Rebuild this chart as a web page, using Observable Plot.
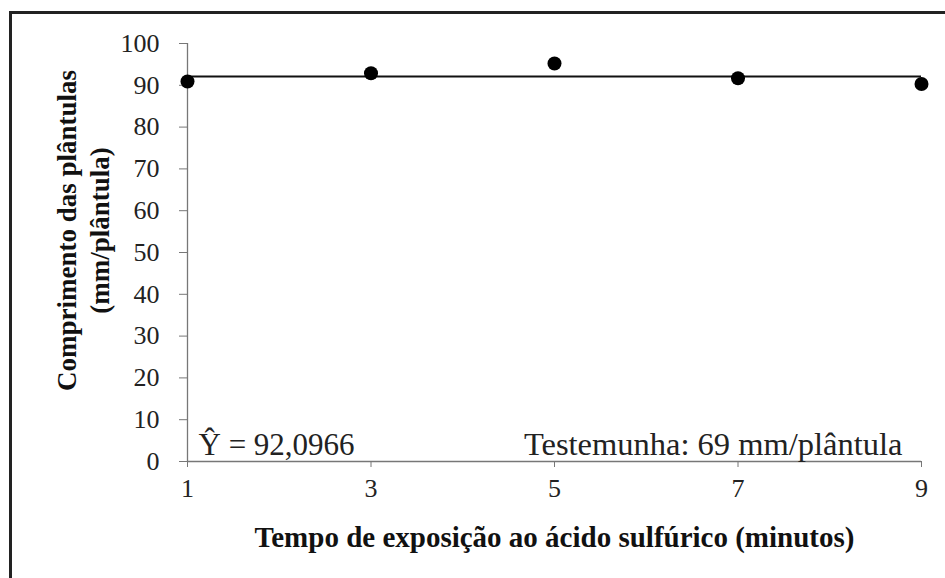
<!DOCTYPE html>
<html><head><meta charset="utf-8">
<script src="https://cdn.jsdelivr.net/npm/d3@7"></script>
<script src="https://cdn.jsdelivr.net/npm/@observablehq/plot@0.6"></script>
<style>
body{margin:0;background:#fff;}
#wrap{position:relative;width:945px;height:578px;overflow:hidden;background:#fff;}
#border{position:absolute;left:9px;top:11px;width:1000px;height:1000px;border-left:3px solid #222;border-top:3px solid #222;pointer-events:none;}
#wrap svg{position:absolute;left:0;top:0;}
</style></head><body><div id="wrap"><div id="border"></div></div>
<script>
const tempo = [1, 3, 5, 7, 9];
const comprimento = [90.9, 92.9, 95.2, 91.7, 90.3];
const yTicks = [0, 10, 20, 30, 40, 50, 60, 70, 80, 90, 100];
const xTicks = [1, 3, 5, 7, 9];
const fitted = 92.0966;
const eqLabel = "Ŷ = 92,0966";
const controlLabel = "Testemunha: 69 mm/plântula";
const xTitle = "Tempo de exposição ao ácido sulfúrico (minutos)";
const yTitleLines = ["Comprimento das plântulas", "(mm/plântula)"];

const data = tempo.map((t, i) => ({t, v: comprimento[i]}));
const serif = "'Liberation Serif', 'Times New Roman', serif";

const chart = Plot.plot({
  width: 945, height: 578,
  marginLeft: 187, marginRight: 24, marginTop: 43, marginBottom: 117,
  x: {domain: [1, 9]},
  y: {domain: [0, 100]},
  style: {fontFamily: serif, background: "transparent", color: "#222"},
  marks: [
    Plot.axisY({ticks: yTicks, tickSize: 8, tickPadding: 20, fontSize: 26, stroke: "#777", fill: "#222", label: null}),
    Plot.axisX({ticks: xTicks, tickSize: 6, tickPadding: 11, fontSize: 26, stroke: "#777", fill: "#222", label: null}),
    Plot.ruleX([1], {y1: 0, y2: 100, stroke: "#777", strokeWidth: 1.3}),
    Plot.ruleY([0], {x1: 1, x2: 9, stroke: "#777", strokeWidth: 1.3}),
    Plot.ruleY([fitted], {x1: 1, x2: 9, stroke: "#111", strokeWidth: 2}),
    Plot.dot(data, {x: "t", y: "v", r: 7, fill: "#000", stroke: null}),
    Plot.text([eqLabel], {frameAnchor: "bottom-left", dx: 11, dy: -7, textAnchor: "start", lineAnchor: "bottom", fontSize: 31, fill: "#222"}),
    Plot.text([controlLabel], {frameAnchor: "bottom-right", dx: -19, dy: -7, textAnchor: "end", lineAnchor: "bottom", fontSize: 32.5, fill: "#222"}),
    Plot.text([xTitle], {frameAnchor: "bottom", dy: 76, lineAnchor: "middle", fontSize: 29, fontWeight: "bold", fill: "#111"}),
    Plot.text([yTitleLines.join("\n")], {frameAnchor: "left", dx: -106, dy: -22, rotate: -90, textAnchor: "middle", lineAnchor: "middle", lineHeight: 1.22, fontSize: 27, fontWeight: "bold", fill: "#111"})
  ]
});
document.getElementById("wrap").appendChild(chart);
</script>
</body></html>
